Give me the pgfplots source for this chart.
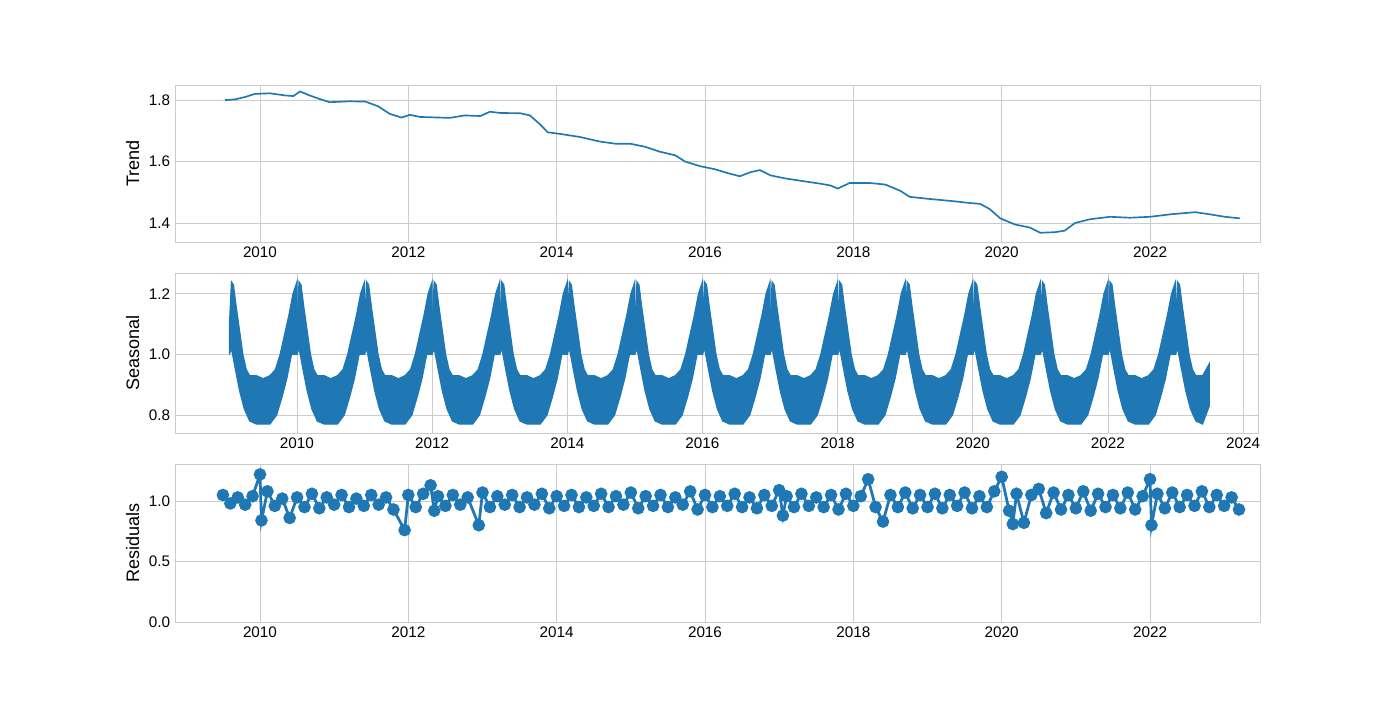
\documentclass[border=0pt]{standalone}
\usepackage{pgfplots}
\usepackage{pgfplotstable}
\pgfplotsset{compat=1.18}
\usepackage{fontspec}
\setmainfont{Liberation Sans}
\definecolor{c1}{HTML}{1F77B4}
\definecolor{gr}{HTML}{CCCCCC}
\pgfplotstableread{
t v
0.00 1.00
0.00 1.10
0.03 1.24
0.06 1.23
0.10 1.16
0.15 1.08
0.20 1.00
0.25 0.95
0.30 0.93
0.40 0.93
0.50 0.92
0.60 0.93
0.68 0.95
0.75 1.00
0.82 1.07
0.88 1.13
0.94 1.20
1.00 1.24
1.00 1.00
0.92 1.00
0.85 0.92
0.78 0.86
0.70 0.80
0.60 0.77
0.50 0.77
0.40 0.77
0.30 0.78
0.22 0.82
0.15 0.88
0.08 0.96
0.03 1.02
0.00 1.00
}\seas
\pgfplotstableread{
t v
0.00 1.00
0.00 1.10
0.03 1.24
0.06 1.23
0.10 1.16
0.15 1.08
0.20 1.00
0.25 0.95
0.30 0.93
0.40 0.93
0.50 0.97
0.50 0.83
0.40 0.77
0.30 0.78
0.22 0.82
0.15 0.88
0.08 0.96
0.03 1.02
0.00 1.00
}\seaslast
\pgfplotsset{
  myax/.style={
    anchor=south west, scale only axis,
    axis line style={gr}, grid=major, grid style={gr, line width=0.6pt},
    tick style={draw=none}, ticklabel style={font=\fontsize{11}{13}\selectfont},
    label style={font=\fontsize{13}{15}\selectfont},
    /pgf/number format/assume math mode=true,
    every axis plot/.append style={c1},
  }
}
\begin{document}
\begin{tikzpicture}
\useasboundingbox (0pt,0pt) rectangle (1008pt,504pt);
\begin{axis}[myax, at={(126pt,329.76pt)}, width=781.2pt, height=113.04pt,
  xmin=2008.854, xmax=2023.483, ymin=1.338, ymax=1.849,
  xtick={2010,2012,...,2022}, xticklabels={2010,2012,2014,2016,2018,2020,2022},
  ytick={1.4,1.6,1.8}, yticklabels={1.4,1.6,1.8},
  ylabel={Trend}, scaled y ticks=false]
\node[anchor=south west, font=\fontsize{11}{13}\selectfont] at (rel axis cs:0,1) {1e6};
\addplot[line width=1.2pt] coordinates {
(2009.53,1.800)(2009.66,1.802)(2009.80,1.810)(2009.93,1.820)(2010.13,1.822)(2010.34,1.815)
(2010.45,1.813)(2010.54,1.828)(2010.67,1.815)(2010.81,1.803)(2010.94,1.793)(2011.21,1.796)
(2011.42,1.795)(2011.59,1.780)(2011.75,1.755)(2011.91,1.743)(2012.02,1.752)(2012.16,1.745)
(2012.56,1.742)(2012.76,1.750)(2012.97,1.748)(2013.10,1.762)(2013.24,1.758)(2013.51,1.757)
(2013.64,1.750)(2013.78,1.720)(2013.88,1.695)(2014.04,1.690)(2014.31,1.680)(2014.58,1.665)
(2014.79,1.658)(2014.99,1.658)(2015.19,1.648)(2015.39,1.632)(2015.60,1.620)(2015.73,1.600)
(2015.93,1.585)(2016.13,1.575)(2016.34,1.560)(2016.47,1.552)(2016.61,1.565)(2016.74,1.572)
(2016.88,1.555)(2017.08,1.545)(2017.35,1.535)(2017.55,1.528)(2017.69,1.522)(2017.79,1.512)
(2017.95,1.530)(2018.22,1.530)(2018.43,1.525)(2018.63,1.505)(2018.76,1.485)(2019.03,1.478)
(2019.30,1.472)(2019.57,1.465)(2019.71,1.462)(2019.84,1.445)(2019.98,1.415)(2020.18,1.395)
(2020.38,1.385)(2020.52,1.368)(2020.72,1.370)(2020.85,1.375)(2020.99,1.400)(2021.19,1.412)
(2021.46,1.420)(2021.73,1.417)(2022.00,1.420)(2022.27,1.428)(2022.61,1.435)(2022.81,1.428)
(2023.01,1.420)(2023.21,1.415)};
\end{axis}
\begin{axis}[myax, at={(126pt,192.24pt)}, width=779.76pt, height=115.2pt,
  xmin=2008.195, xmax=2024.22, ymin=0.7405, ymax=1.269,
  xtick={2010,2012,...,2024}, xticklabels={2010,2012,2014,2016,2018,2020,2022,2024},
  ytick={0.8,1.0,1.2}, yticklabels={0.8,1.0,1.2},
  ylabel={Seasonal}]
\pgfplotsinvokeforeach{2009,2010,2011,2012,2013,2014,2015,2016,2017,2018,2019,2020,2021,2022}{
  \addplot[fill=c1, draw=c1, line width=0.8pt] table[x expr=\thisrow{t}+#1, y=v] {\seas};
}
\addplot[fill=c1, draw=c1, line width=0.8pt] table[x expr=\thisrow{t}+2023, y=v] {\seaslast};
\end{axis}
\begin{axis}[myax, at={(126pt,56.16pt)}, width=781.2pt, height=113.76pt,
  xmin=2008.854, xmax=2023.483, ymin=0, ymax=1.306,
  xtick={2010,2012,...,2022}, xticklabels={2010,2012,2014,2016,2018,2020,2022},
  ytick={0,0.5,1.0}, yticklabels={0.0,0.5,1.0},
  ylabel={Residuals}]
\addplot[line width=2pt, mark=*, mark size=3.5pt] coordinates {
(2009.5,1.05)(2009.6,0.98)(2009.7,1.03)(2009.8,0.97)(2009.9,1.04)(2010.0,1.22)(2010.02,0.84)
(2010.1,1.08)(2010.2,0.96)(2010.3,1.02)(2010.4,0.86)(2010.5,1.03)(2010.6,0.95)(2010.7,1.06)
(2010.8,0.94)(2010.9,1.03)(2011.0,0.97)(2011.1,1.05)(2011.2,0.95)(2011.3,1.02)(2011.4,0.96)
(2011.5,1.05)(2011.6,0.97)(2011.7,1.03)(2011.8,0.93)(2011.95,0.76)(2012.0,1.05)(2012.1,0.95)
(2012.2,1.06)(2012.3,1.13)(2012.35,0.92)(2012.4,1.04)(2012.5,0.96)(2012.6,1.05)(2012.7,0.97)
(2012.8,1.03)(2012.95,0.80)(2013.0,1.07)(2013.1,0.95)(2013.2,1.04)(2013.3,0.97)(2013.4,1.05)
(2013.5,0.95)(2013.6,1.03)(2013.7,0.97)(2013.8,1.06)(2013.9,0.94)(2014.0,1.04)(2014.1,0.96)
(2014.2,1.05)(2014.3,0.95)(2014.4,1.03)(2014.5,0.96)(2014.6,1.06)(2014.7,0.95)(2014.8,1.04)
(2014.9,0.97)(2015.0,1.07)(2015.1,0.94)(2015.2,1.04)(2015.3,0.96)(2015.4,1.05)(2015.5,0.95)
(2015.6,1.03)(2015.7,0.97)(2015.8,1.08)(2015.9,0.93)(2016.0,1.05)(2016.1,0.95)(2016.2,1.04)
(2016.3,0.96)(2016.4,1.06)(2016.5,0.95)(2016.6,1.03)(2016.7,0.94)(2016.8,1.05)(2016.9,0.96)
(2017.0,1.09)(2017.05,0.88)(2017.1,1.04)(2017.2,0.95)(2017.3,1.06)(2017.4,0.96)(2017.5,1.03)
(2017.6,0.95)(2017.7,1.05)(2017.8,0.93)(2017.9,1.06)(2018.0,0.96)(2018.1,1.04)(2018.2,1.18)
(2018.3,0.95)(2018.4,0.83)(2018.5,1.05)(2018.6,0.95)(2018.7,1.07)(2018.8,0.94)(2018.9,1.05)
(2019.0,0.95)(2019.1,1.06)(2019.2,0.94)(2019.3,1.05)(2019.4,0.96)(2019.5,1.07)(2019.6,0.94)
(2019.7,1.04)(2019.8,0.95)(2019.9,1.08)(2020.0,1.20)(2020.1,0.92)(2020.15,0.81)(2020.2,1.06)
(2020.3,0.82)(2020.4,1.05)(2020.5,1.10)(2020.6,0.90)(2020.7,1.07)(2020.8,0.93)(2020.9,1.05)
(2021.0,0.94)(2021.1,1.08)(2021.2,0.92)(2021.3,1.06)(2021.4,0.95)(2021.5,1.05)(2021.6,0.94)
(2021.7,1.07)(2021.8,0.93)(2021.9,1.04)(2022.0,1.18)(2022.02,0.80)(2022.1,1.06)(2022.2,0.94)
(2022.3,1.07)(2022.4,0.95)(2022.5,1.05)(2022.6,0.96)(2022.7,1.08)(2022.8,0.95)(2022.9,1.05)
(2023.0,0.96)(2023.1,1.03)(2023.2,0.93)};
\end{axis}
\end{tikzpicture}
\end{document}
